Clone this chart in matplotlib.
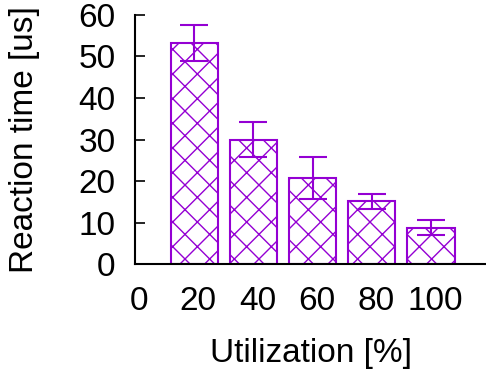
import matplotlib
matplotlib.use("Agg")
import matplotlib.pyplot as plt
from matplotlib.transforms import ScaledTranslation

# dpi below 100 makes the hatch cells smaller; all point sizes are scaled by K
DPI = 74
K = 100 / DPI

plt.rcParams['font.family'] = ['Liberation Sans', 'DejaVu Sans']
plt.rcParams['hatch.linewidth'] = 1.0 * K
plt.rcParams['hatch.color'] = '#9400D3'

# data
utilization = [20, 40, 60, 80, 100]
reaction_time = [53.3, 30.0, 20.7, 15.1, 8.8]
errors = [4.3, 4.3, 5.0, 1.8, 1.75]
purple = '#9400D3'

fig = plt.figure(figsize=(486 / DPI, 374 / DPI), dpi=DPI)
ax = fig.add_axes([0.278, 0.294, 0.722, 0.666])

ax.bar(utilization, reaction_time, width=16, color='white', edgecolor=purple,
       hatch='x', linewidth=1.5 * K)
ax.errorbar(utilization, reaction_time, yerr=errors, fmt='none', ecolor=purple,
            elinewidth=1.5 * K, capsize=10 * K, capthick=1.5 * K)

ax.set_xlim(0, 118.6)
ax.set_ylim(0, 60)
ax.set_xticks([0, 20, 40, 60, 80, 100])
ax.set_yticks(range(0, 61, 10))

ax.spines['top'].set_visible(False)
ax.spines['right'].set_visible(False)
ax.spines['left'].set_linewidth(1.5 * K)
ax.spines['bottom'].set_linewidth(1.5 * K)

ax.tick_params(axis='y', direction='in', length=7 * K, width=1.2 * K, pad=14 * K, labelsize=24 * K)
ax.tick_params(axis='x', length=0, pad=16 * K, labelsize=24 * K)

# x labels sit a little right of the bar centres
shift = ScaledTranslation(4 / DPI, 0, fig.dpi_scale_trans)
for lbl in ax.get_xticklabels():
    lbl.set_transform(lbl.get_transform() + shift)

ax.set_xlabel('Utilization [%]', fontsize=24 * K, labelpad=15 * K)
ax.set_ylabel('Reaction time [us]', fontsize=24 * K, labelpad=28 * K)

fig.savefig('out.png', dpi=DPI)
